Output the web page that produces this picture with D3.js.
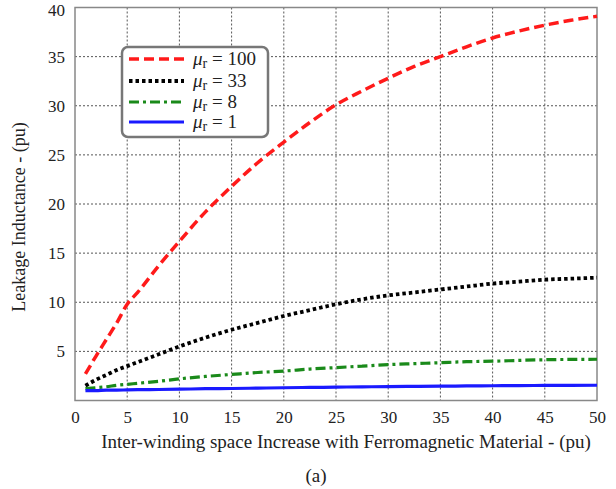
<!DOCTYPE html>
<html><head><meta charset="utf-8">
<script src="https://cdn.jsdelivr.net/npm/d3@7"></script>
<style>body{margin:0;background:#fff}svg{display:block}svg text{font-family:"Liberation Serif",serif !important;fill:#222}</style>
</head><body><svg id="c" width="616" height="489"></svg>
<script>
const xValues = [1, 2, 3, 4, 5, 6, 8, 10, 12.5, 15, 17.5, 20, 22.5, 25, 27.5, 30, 32.5, 35, 37.5, 40, 42.5, 45, 47.5, 50];
const mu100 = [2.7, 4.5, 6.2, 7.9, 9.8, 11.0, 13.7, 16.2, 19.2, 21.8, 24.2, 26.3, 28.3, 30.1, 31.5, 32.8, 34.0, 35.0, 36.0, 36.9, 37.6, 38.2, 38.7, 39.1];
const mu33 = [1.5, 2.1, 2.6, 3.1, 3.5, 3.9, 4.7, 5.5, 6.4, 7.2, 7.9, 8.6, 9.2, 9.8, 10.3, 10.7, 11.0, 11.3, 11.6, 11.9, 12.1, 12.3, 12.4, 12.5];
const mu8 = [1.2, 1.3, 1.4, 1.55, 1.65, 1.75, 1.95, 2.2, 2.45, 2.65, 2.85, 3.0, 3.2, 3.35, 3.5, 3.65, 3.75, 3.85, 3.95, 4.0, 4.08, 4.15, 4.18, 4.2];
const mu1 = [1.0, 1.0, 1.05, 1.05, 1.08, 1.1, 1.12, 1.15, 1.2, 1.22, 1.26, 1.3, 1.33, 1.36, 1.39, 1.42, 1.44, 1.46, 1.48, 1.5, 1.52, 1.53, 1.54, 1.55];
const seriesNames = ["100", "33", "8", "1"];
const xTicks = [0, 5, 10, 15, 20, 25, 30, 35, 40, 45, 50];
const yTicks = [5, 10, 15, 20, 25, 30, 35, 40];
const xLabel = "Inter-winding space Increase with Ferromagnetic Material - (pu)";
const yLabel = "Leakage Inductance - (pu)";
const caption = "(a)";

const FONT = '"Liberation Serif", serif';
const svg = d3.select("#c");
const L = 75, R = 597, T = 7.5, B = 400.5;
const x = d3.scaleLinear().domain([0, 50]).range([L, R]);
const y = d3.scaleLinear().domain([0, 40]).range([B, T]);

// grid
const g = svg.append("g");
g.selectAll(".vg").data(xTicks.slice(1, -1)).enter().append("line")
  .attr("x1", d => x(d)).attr("x2", d => x(d)).attr("y1", T).attr("y2", B)
  .attr("stroke", "#555").attr("stroke-width", 1).attr("stroke-dasharray", "2,2");
g.selectAll(".hg").data(yTicks.slice(0, -1)).enter().append("line")
  .attr("x1", L).attr("x2", R).attr("y1", d => y(d)).attr("y2", d => y(d))
  .attr("stroke", "#555").attr("stroke-width", 1).attr("stroke-dasharray", "2,2");

// axes
const xAxis = d3.axisBottom(x).tickValues(xTicks).tickSize(0).tickPadding(10).tickFormat(d3.format("d"));
const yAxis = d3.axisLeft(y).tickValues(yTicks).tickSize(0).tickPadding(10).tickFormat(d3.format("d"));
const gx = svg.append("g").attr("transform", `translate(0,${B})`).call(xAxis);
const gy = svg.append("g").attr("transform", `translate(${L},0)`).call(yAxis);
[gx, gy].forEach(a => {
  a.attr("font-family", FONT).attr("font-size", 17);
  a.select(".domain").remove();
  a.selectAll("text").attr("font-family", FONT).attr("font-size", 17).attr("fill", "#222");
});
gy.selectAll(".tick").filter(d => d === 40).select("text").attr("dy", "0.45em");

// frame
svg.append("rect").attr("x", L).attr("y", T).attr("width", R - L).attr("height", B - T)
  .attr("fill", "none").attr("stroke", "#888").attr("stroke-width", 1.5);

// series
const series = [
  {vals: mu100, color: "#ff1a1a", dash: "10,5", w: 3.5},
  {vals: mu33, color: "#000", dash: "3.5,3", w: 3.8},
  {vals: mu8, color: "#1a8a1a", dash: "10,4,3,4", w: 3.2},
  {vals: mu1, color: "#1a1aff", dash: null, w: 3.2}
];
const line = d3.line().x((d, i) => x(xValues[i])).y(d => y(d)).curve(d3.curveMonotoneX);
const plot = svg.append("g");
series.forEach(s => {
  plot.append("path").datum(s.vals).attr("d", line).attr("fill", "none")
    .attr("stroke", s.color).attr("stroke-width", s.w)
    .attr("stroke-dasharray", s.dash);
});

// legend
const lg = svg.append("g");
lg.append("rect").attr("x", 122).attr("y", 47).attr("width", 146).attr("height", 90).attr("rx", 6)
  .attr("fill", "#fff").attr("stroke", "#777").attr("stroke-width", 2.5);
const rows = [59, 81, 102, 122];
series.forEach((s, i) => {
  lg.append("line").attr("x1", 129).attr("x2", 184).attr("y1", rows[i]).attr("y2", rows[i])
    .attr("stroke", s.color).attr("stroke-width", s.w).attr("stroke-dasharray", s.dash);
  const t = lg.append("text").attr("x", 193).attr("y", rows[i] + 6)
    .attr("font-family", FONT).attr("font-size", 19);
  t.append("tspan").text("μ").attr("font-style", "italic");
  t.append("tspan").text("r").attr("dy", 3).attr("font-size", 14);
  t.append("tspan").text(" = " + seriesNames[i]).attr("dy", -3);
});

// labels
svg.append("text").attr("x", 346).attr("y", 448).attr("text-anchor", "middle")
  .attr("font-family", FONT).attr("font-size", 19).text(xLabel);
svg.append("text").attr("transform", "translate(25,217) rotate(-90)").attr("text-anchor", "middle")
  .attr("font-family", FONT).attr("font-size", 18).text(yLabel);
svg.append("text").attr("x", 316).attr("y", 482).attr("text-anchor", "middle")
  .attr("font-family", FONT).attr("font-size", 19).text(caption);
</script></body></html>
